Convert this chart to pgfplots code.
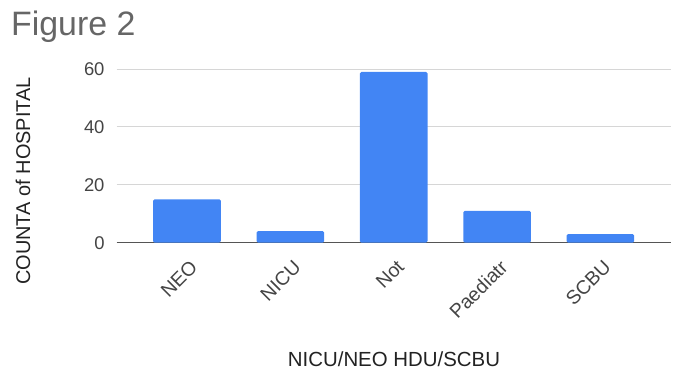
\documentclass[border=0pt]{standalone}
\usepackage{pgfplots}
\pgfplotsset{compat=1.18}
\usepackage{fontspec}
\setmainfont{Liberation Sans}
\definecolor{gblue}{HTML}{4285F4}
\definecolor{gridc}{HTML}{D6D6D6}
\definecolor{axc}{HTML}{555555}
\definecolor{tickc}{HTML}{444444}
\definecolor{labc}{HTML}{222222}
\definecolor{titc}{HTML}{666666}
\begin{document}
\begin{tikzpicture}[x=1bp,y=1bp]
\path[use as bounding box] (0,0) rectangle (678,370);
\begin{axis}[
  at={(116.7bp,127.3bp)}, anchor=south west,
  scale only axis, width=554bp, height=173.7bp,
  xmin=-0.68, xmax=4.68, ymin=0, ymax=60,
  ytick={0,20,40,60},
  xtick={0,1,2,3,4},
  xticklabels={NEO,NICU,Not,Paediatr,SCBU},
  /pgf/number format/assume math mode=true,
  ymajorgrids, grid style={gridc, line width=0.9pt},
  axis x line*=bottom, axis y line*=left,
  x axis line style={axc, line width=1.3pt, -},
  y axis line style={draw=none},
  major tick length=0pt,
  tick style={draw=none},
  yticklabel style={font=\fontsize{18.5}{18.5}\selectfont, text=tickc, inner sep=0pt, xshift=-12bp},
  xticklabel style={font=\fontsize{19.5}{19.5}\selectfont, text=tickc, xshift=7bp, yshift=-21bp, rotate=45, anchor=east, inner sep=0pt},
  ybar, bar width=67.6bp,
  clip=false,
]
\addplot[fill=gblue, draw=none, rounded corners=1.5bp] coordinates {(0,15) (1,4) (2,59) (3,11) (4,3)};
\end{axis}
\node[anchor=base west, inner sep=0pt, text=titc, font=\fontsize{34}{34}\selectfont] at (11,335) {Figure 2};
\node[rotate=90, inner sep=0pt, text=labc, font=\fontsize{20}{20}\selectfont] at (23,189) {COUNTA of HOSPITAL};
\node[anchor=base, inner sep=0pt, text=labc, font=\fontsize{20.5}{20.5}\selectfont] at (394,4) {NICU/NEO HDU/SCBU};
\end{tikzpicture}
\end{document}
